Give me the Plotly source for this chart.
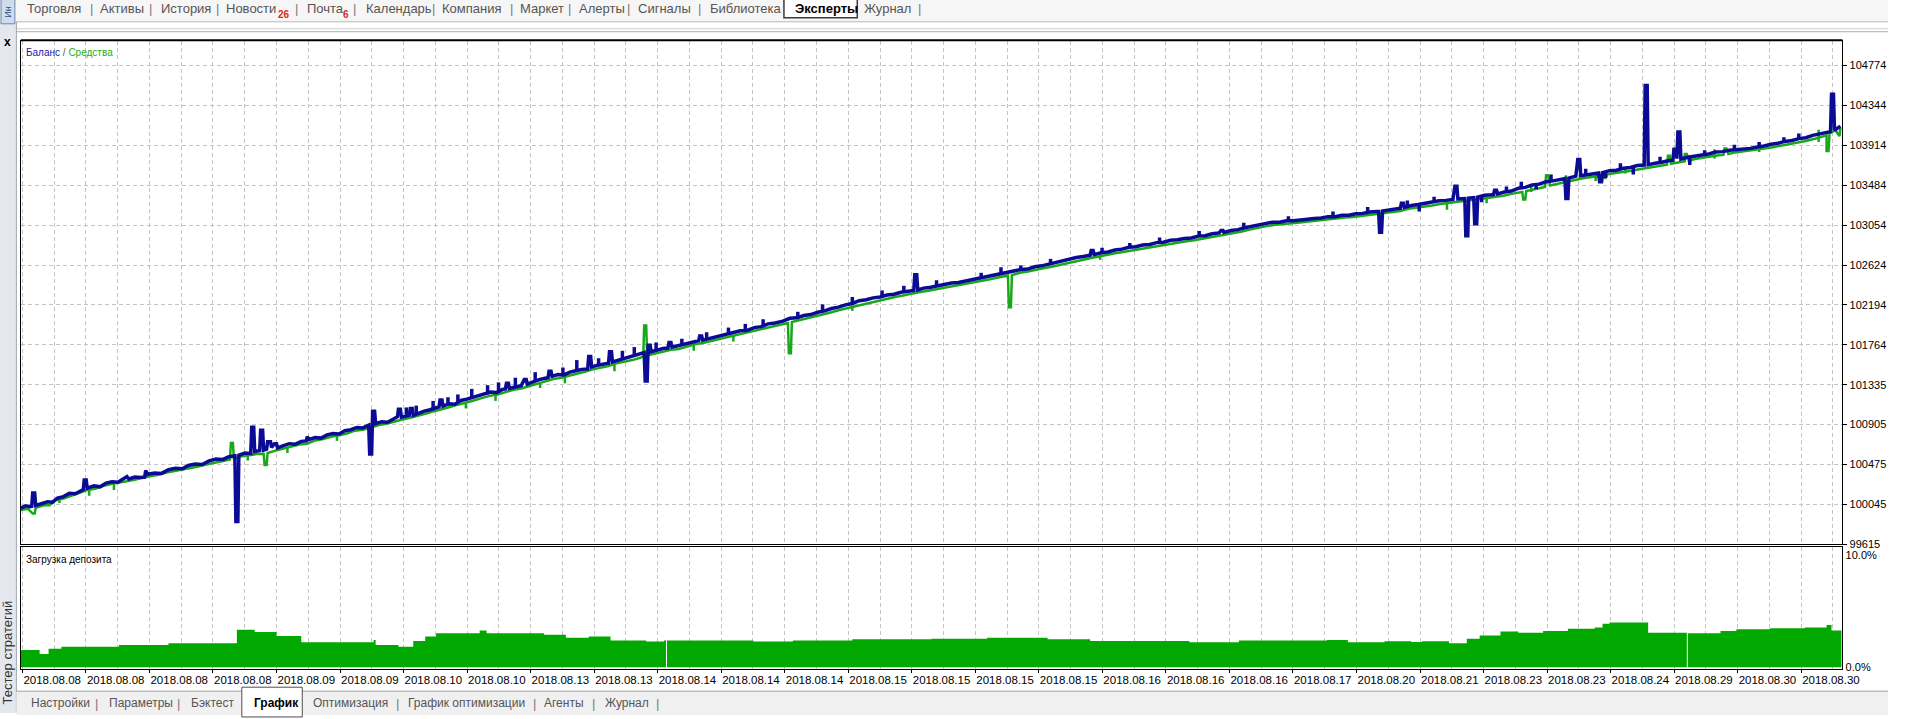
import plotly.graph_objects as go

W, H = 1905, 719

# ---------------- data ----------------
date_labels = (["2018.08.08"] * 4 + ["2018.08.09"] * 2 + ["2018.08.10"] * 2 +
               ["2018.08.13"] * 2 + ["2018.08.14"] * 3 + ["2018.08.15"] * 4 +
               ["2018.08.16"] * 3 +
               ["2018.08.17", "2018.08.20", "2018.08.21", "2018.08.23", "2018.08.23",
                "2018.08.24", "2018.08.29", "2018.08.30", "2018.08.30"])

y_ticks = [99615, 100045, 100475, 100905, 101335, 101764, 102194,
           102624, 103054, 103484, 103914, 104344, 104774]

load_ticks = [0, 10]
load_tick_text = ["0.0%", "10.0%"]

# balance line (x = bar position, y = account balance)
bal_x = [21, 26, 30, 32, 33, 35, 36, 42, 48, 53, 58, 64, 70, 76, 82, 84, 85, 87, 88, 95,
         101, 107, 113, 119, 125, 128, 130, 136, 142, 146, 147, 149, 156, 163, 170, 177, 184, 190, 197, 204,
         211, 218, 225, 231, 237, 238, 240, 241, 247, 253, 254, 256, 257, 262, 263, 265, 266, 269, 270, 273,
         274, 277, 279, 280, 286, 292, 298, 304, 309, 310, 312, 318, 324, 330, 336, 342, 348, 354, 360, 366,
         372, 373, 375, 376, 378, 379, 385, 391, 397, 401, 402, 404, 405, 410, 413, 414, 416, 417, 422, 428,
         434, 440, 443, 444, 446, 447, 453, 459, 465, 471, 477, 483, 489, 495, 501, 507, 510, 511, 513, 514,
         520, 526, 529, 531, 532, 538, 544, 550, 553, 554, 556, 557, 563, 569, 575, 581, 587, 593, 594, 596,
         597, 603, 609, 614, 615, 617, 618, 624, 630, 636, 642, 648, 650, 651, 653, 654, 656, 657, 663, 669,
         674, 675, 677, 678, 684, 690, 696, 702, 705, 706, 708, 709, 715, 721, 727, 733, 740, 747, 754, 761,
         768, 775, 782, 790, 797, 804, 811, 818, 825, 832, 839, 846, 853, 860, 867, 874, 881, 888, 895, 902,
         909, 916, 922, 923, 925, 926, 932, 939, 946, 953, 960, 967, 974, 981, 988, 995, 1002, 1009, 1016, 1023,
         1030, 1037, 1044, 1051, 1058, 1065, 1072, 1079, 1086, 1093, 1100, 1101, 1103, 1104, 1111, 1118, 1125, 1132, 1139, 1146,
         1153, 1160, 1167, 1174, 1181, 1188, 1195, 1202, 1209, 1216, 1223, 1230, 1232, 1234, 1235, 1242, 1249, 1256, 1263, 1270,
         1277, 1284, 1291, 1298, 1305, 1312, 1319, 1326, 1333, 1340, 1347, 1354, 1361, 1368, 1375, 1382, 1389, 1391, 1392, 1394,
         1395, 1402, 1409, 1413, 1414, 1416, 1417, 1424, 1431, 1438, 1445, 1452, 1459, 1466, 1468, 1470, 1471, 1478, 1479, 1481,
         1482, 1487, 1488, 1490, 1491, 1498, 1505, 1507, 1508, 1510, 1511, 1518, 1525, 1532, 1539, 1546, 1553, 1560, 1567, 1574,
         1579, 1580, 1582, 1583, 1590, 1592, 1594, 1595, 1602, 1609, 1613, 1614, 1616, 1617, 1624, 1631, 1638, 1645, 1652, 1659,
         1660, 1662, 1663, 1670, 1677, 1684, 1688, 1689, 1691, 1692, 1693, 1695, 1696, 1703, 1710, 1717, 1724, 1731, 1738, 1745,
         1752, 1759, 1766, 1773, 1780, 1787, 1794, 1801, 1808, 1815, 1822, 1829, 1836, 1842, 1847, 1848, 1850, 1851, 1857]
bal_y = [100005, 100030, 100020, 100025, 100170, 100170, 100035, 100055, 100075, 100070, 100115, 100130, 100165, 100160, 100200, 100205, 100310, 100310, 100220, 100245,
         100235, 100275, 100290, 100285, 100325, 100345, 100320, 100340, 100335, 100340, 100410, 100370, 100385, 100380, 100420, 100435, 100430, 100465, 100480, 100475,
         100515, 100535, 100530, 100560, 100570, 99861, 99861, 100575, 100600, 100595, 100878, 100878, 100615, 100625, 100845, 100845, 100630, 100640, 100720, 100720,
         100660, 100700, 100700, 100655, 100680, 100700, 100695, 100725, 100730, 100775, 100745, 100765, 100760, 100795, 100810, 100805, 100840, 100850, 100875, 100870,
         100900, 100589, 100589, 101049, 101049, 100915, 100935, 100930, 100965, 100990, 101070, 101070, 100985, 101000, 101005, 101080, 101080, 101005, 101030, 101050,
         101065, 101090, 101095, 101170, 101170, 101105, 101130, 101125, 101165, 101180, 101200, 101215, 101240, 101255, 101250, 101285, 101290, 101350, 101350, 101295,
         101310, 101325, 101390, 101390, 101340, 101370, 101390, 101405, 101410, 101480, 101480, 101425, 101445, 101440, 101470, 101485, 101500, 101505, 101640, 101640,
         101525, 101545, 101560, 101565, 101690, 101690, 101580, 101600, 101615, 101635, 101660, 101675, 101680, 101374, 101374, 101760, 101760, 101690, 101710, 101725,
         101730, 101790, 101790, 101740, 101755, 101770, 101790, 101805, 101810, 101860, 101860, 101815, 101830, 101850, 101865, 101880, 101890, 101915, 101920, 101950,
         101960, 101990, 102000, 102020, 102050, 102055, 102080, 102090, 102115, 102130, 102155, 102170, 102195, 102210, 102240, 102250, 102270, 102280, 102300, 102310,
         102330, 102340, 102350, 102520, 102520, 102355, 102375, 102385, 102400, 102410, 102430, 102435, 102450, 102465, 102485, 102495, 102515, 102525, 102545, 102555,
         102575, 102580, 102605, 102615, 102635, 102650, 102670, 102685, 102705, 102715, 102730, 102780, 102780, 102735, 102755, 102765, 102785, 102795, 102815, 102820,
         102840, 102845, 102865, 102870, 102890, 102895, 102910, 102915, 102935, 102940, 102960, 102970, 102995, 102995, 102975, 102995, 103005, 103025, 103040, 103060,
         103070, 103085, 103085, 103100, 103100, 103110, 103115, 103125, 103130, 103145, 103145, 103160, 103160, 103175, 103180, 103195, 103200, 103200, 102977, 102977,
         103205, 103220, 103230, 103235, 103290, 103290, 103245, 103265, 103275, 103290, 103300, 103315, 103320, 103330, 103472, 103472, 103335, 103340, 102938, 102938,
         103345, 103350, 103068, 103068, 103355, 103375, 103380, 103382, 103430, 103430, 103390, 103410, 103420, 103450, 103460, 103485, 103495, 103520, 103530, 103550,
         103555, 103340, 103340, 103560, 103580, 103760, 103760, 103585, 103600, 103610, 103615, 103520, 103520, 103620, 103640, 103645, 103665, 103675, 103695, 103700,
         104558, 104558, 103705, 103720, 103730, 103750, 103752, 103870, 103870, 103770, 104056, 104056, 103765, 103785, 103795, 103810, 103820, 103840, 103845, 103860,
         103865, 103875, 103880, 103895, 103905, 103925, 103935, 103955, 103965, 103985, 103995, 104020, 104035, 104050, 104060, 104462, 104462, 104075, 104120]

# short balance jumps (x, low, high)
bal_tooth_x = [410, 420, 437, 452, 462, 476, 492, 503, 520, 540, 568, 582, 604, 628, 640,
               662, 688, 713, 735, 752, 770, 805, 830, 860, 890, 912, 945, 990, 1010, 1030,
               1060, 1112, 1140, 1170, 1210, 1255, 1300, 1345, 1380, 1420, 1432, 1447, 1495, 1520, 1535,
               1550, 1565, 1600, 1620, 1635, 1648, 1675, 1705, 1720, 1750, 1775, 1800, 1815]
bal_tooth_lo = [101000, 101020, 101060, 101110, 101140, 101180, 101230, 101260, 101300, 101370, 101440, 101480, 101540, 101610, 101640,
                101700, 101760, 101820, 101870, 101910, 101960, 102050, 102120, 102200, 102280, 102330, 102390, 102480, 102520, 102570,
                102630, 102750, 102810, 102865, 102930, 103020, 103095, 103145, 103190, 103255, 103200, 103300, 103300, 103408, 103450,
                103440, 103525, 103590, 103560, 103650, 103600, 103725, 103700, 103800, 103860, 103895, 103945, 103975]
bal_tooth_hi = [101090, 101110, 101160, 101200, 101230, 101290, 101330, 101360, 101410, 101470, 101520, 101600, 101620, 101700, 101740,
                101790, 101830, 101900, 101950, 101990, 102040, 102120, 102200, 102280, 102350, 102400, 102460, 102540, 102600, 102620,
                102690, 102810, 102860, 102920, 102990, 103080, 103150, 103200, 103250, 103320, 103280, 103360, 103365, 103470, 103520,
                103490, 103600, 103660, 103630, 103720, 103690, 103790, 103790, 103860, 103920, 103950, 104000, 104040]

# equity line (x = bar position, y = equity)
eq_x = [21, 28, 33, 35, 36, 45, 50, 56, 64, 72, 80, 88, 96, 104, 112, 120, 128, 136, 144, 152,
        160, 168, 176, 184, 192, 200, 208, 216, 224, 232, 233, 235, 236, 244, 252, 260, 266, 267, 269, 270,
        278, 286, 294, 302, 310, 318, 326, 334, 342, 350, 358, 366, 374, 382, 390, 398, 406, 414, 422, 430,
        438, 446, 454, 462, 470, 478, 486, 494, 502, 510, 518, 526, 534, 542, 550, 558, 566, 574, 582, 590,
        598, 606, 614, 622, 630, 638, 646, 649, 650, 652, 653, 661, 669, 677, 685, 693, 701, 709, 717, 725,
        733, 741, 749, 757, 765, 773, 781, 789, 795, 796, 798, 799, 807, 815, 823, 831, 839, 847, 855, 863,
        871, 879, 887, 895, 903, 911, 919, 927, 935, 943, 951, 959, 967, 975, 983, 991, 999, 1007, 1015, 1017,
        1018, 1020, 1021, 1029, 1037, 1045, 1053, 1061, 1069, 1077, 1085, 1093, 1101, 1109, 1117, 1125, 1133, 1141, 1149, 1157,
        1165, 1173, 1181, 1189, 1197, 1205, 1213, 1221, 1229, 1237, 1245, 1253, 1261, 1269, 1277, 1285, 1293, 1301, 1309, 1317,
        1325, 1333, 1341, 1349, 1357, 1365, 1373, 1381, 1389, 1397, 1405, 1413, 1421, 1429, 1437, 1445, 1453, 1461, 1469, 1477,
        1485, 1493, 1501, 1509, 1517, 1525, 1533, 1536, 1537, 1539, 1540, 1548, 1556, 1559, 1560, 1562, 1564, 1572, 1580, 1588,
        1596, 1604, 1612, 1620, 1622, 1630, 1638, 1646, 1654, 1662, 1670, 1678, 1682, 1683, 1685, 1686, 1694, 1699, 1700, 1702,
        1704, 1710, 1718, 1726, 1734, 1739, 1740, 1742, 1744, 1750, 1758, 1766, 1774, 1782, 1790, 1798, 1806, 1814, 1822, 1830,
        1838, 1843, 1843, 1845, 1846, 1852, 1856, 1857]
eq_y = [99985, 100000, 99947, 99947, 100010, 100040, 100037, 100090, 100110, 100140, 100170, 100200, 100215, 100245, 100265, 100280, 100300, 100310, 100335, 100350,
        100365, 100390, 100405, 100420, 100440, 100455, 100475, 100490, 100510, 100530, 100706, 100706, 100540, 100565, 100580, 100590, 100592, 100471, 100471, 100600,
        100625, 100645, 100665, 100690, 100700, 100735, 100750, 100775, 100790, 100810, 100840, 100850, 100870, 100900, 100915, 100940, 100960, 100980, 101000, 101025,
        101050, 101070, 101095, 101120, 101140, 101165, 101190, 101215, 101230, 101255, 101280, 101295, 101320, 101345, 101370, 101395, 101410, 101430, 101455, 101475,
        101500, 101520, 101535, 101565, 101580, 101600, 101625, 101640, 101973, 101973, 101650, 101670, 101690, 101710, 101720, 101745, 101770, 101785, 101805, 101825,
        101840, 101860, 101880, 101900, 101920, 101945, 101965, 101985, 102000, 101674, 101674, 102010, 102030, 102050, 102075, 102095, 102115, 102140, 102160, 102180,
        102205, 102220, 102240, 102265, 102280, 102295, 102315, 102330, 102345, 102360, 102380, 102395, 102410, 102420, 102435, 102455, 102470, 102490, 102505, 102510,
        102169, 102169, 102515, 102540, 102555, 102575, 102590, 102605, 102625, 102645, 102665, 102680, 102700, 102715, 102735, 102750, 102765, 102780, 102795, 102810,
        102820, 102840, 102855, 102865, 102880, 102890, 102905, 102920, 102940, 102955, 102970, 102985, 103005, 103025, 103040, 103055, 103060, 103070, 103080, 103090,
        103095, 103105, 103115, 103125, 103135, 103140, 103150, 103160, 103170, 103180, 103195, 103205, 103230, 103240, 103255, 103265, 103280, 103290, 103300, 103310,
        103320, 103335, 103345, 103360, 103370, 103390, 103405, 103410, 103330, 103330, 103420, 103440, 103460, 103465, 103590, 103590, 103480, 103500, 103520, 103540,
        103555, 103570, 103580, 103560, 103600, 103615, 103625, 103640, 103655, 103670, 103685, 103700, 103705, 103800, 103800, 103715, 103730, 103740, 103820, 103820,
        103745, 103765, 103780, 103795, 103805, 103810, 103880, 103880, 103820, 103835, 103845, 103855, 103865, 103880, 103895, 103910, 103925, 103940, 103960, 103980,
        104000, 104020, 103852, 103852, 104040, 104075, 104013, 104100]

# short equity jumps (x, low, high)
eq_tooth_x = [60, 90, 115, 250, 290, 340, 470, 500, 545, 570, 620, 700, 740, 860, 1110,
              1460, 1500, 1545, 1580, 1610, 1640, 1700, 1730, 1775, 1835]
eq_tooth_lo = [100060, 100140, 100200, 100520, 100600, 100730, 101080, 101160, 101300, 101350, 101480, 101700, 101800, 102130, 102680,
               103220, 103290, 103410, 103480, 103530, 103610, 103730, 103770, 103840, 103950]
eq_tooth_hi = [100110, 100200, 100260, 100590, 100660, 100790, 101140, 101230, 101360, 101420, 101550, 101760, 101860, 102190, 102740,
               103290, 103360, 103480, 103590, 103620, 103680, 103800, 103870, 103900, 104080]

# deposit load, % (step chart)
load_x = [21, 40, 49, 62, 120, 170, 239, 257, 279, 304, 377, 379, 402, 417, 429, 440, 484, 491, 549, 571,
          594, 616, 652, 670, 672, 673, 700, 760, 800, 860, 940, 996, 1057, 1100, 1200, 1250, 1339, 1360, 1397, 1424,
          1435, 1462, 1480, 1493, 1514, 1532, 1557, 1582, 1609, 1617, 1624, 1663, 1702, 1703, 1736, 1752, 1786, 1821, 1843, 1848,
          1858]
load_y = [1.55, 1.2, 1.65, 1.85, 2.0, 2.15, 3.35, 3.15, 2.8, 2.25, 2.45, 2.0, 1.85, 2.35, 2.75, 3.05, 3.3, 3.05, 2.9, 2.65,
          2.75, 2.4, 2.3, 2.4, 0.0, 2.4, 2.4, 2.3, 2.4, 2.5, 2.55, 2.65, 2.5, 2.35, 2.25, 2.4, 2.45, 2.25, 2.33, 2.27,
          2.33, 2.15, 2.55, 2.85, 3.2, 3.1, 3.25, 3.45, 3.55, 3.9, 4.0, 3.1, 0.0, 3.05, 3.25, 3.4, 3.5, 3.55, 3.78, 3.3,
          3.3]

top_tabs = ["Торговля", "Активы", "История", "Новости", "Почта", "Календарь", "Компания",
            "Маркет", "Алерты", "Сигналы", "Библиотека", "Эксперты", "Журнал"]
bottom_tabs = ["Настройки", "Параметры", "Бэктест", "График", "Оптимизация",
               "График оптимизации", "Агенты", "Журнал"]

# ---------------- layout geometry (screen pixels) ----------------
def px(x):
    return x / W


def py(y):
    return 1 - y / H


X0, X1 = 21, 1859
MAIN_T, MAIN_B = 41, 549
LOW_T, LOW_B = 552, 675
GRID0, GRID_STEP = 22.6, 32.05

major_ticks = [GRID0 + 2 * GRID_STEP * i for i in range(len(date_labels))]
minor_ticks = [GRID0 + GRID_STEP * (2 * i + 1) for i in range(len(date_labels))]

GRID = "#c4c4c4"
DASH = "4px,3px"
FONT = "Liberation Sans, Arial, sans-serif"
BLUE = "#0b0b96"
GREEN = "#19a819"


def segments(xs, los, his):
    sx, sy = [], []
    for x, lo, hi in zip(xs, los, his):
        sx += [x, x, None]
        sy += [lo, hi, None]
    return sx, sy


fig = go.Figure()
fig.add_trace(go.Scatter(x=eq_x, y=eq_y, mode="lines", line=dict(color=GREEN, width=2.5),
                         xaxis="x", yaxis="y", hoverinfo="skip"))
ex, ey = segments(eq_tooth_x, eq_tooth_lo, eq_tooth_hi)
fig.add_trace(go.Scatter(x=ex, y=ey, mode="lines", line=dict(color=GREEN, width=2.5),
                         xaxis="x", yaxis="y", hoverinfo="skip", connectgaps=False))
fig.add_trace(go.Scatter(x=bal_x, y=bal_y, mode="lines", line=dict(color=BLUE, width=3.5),
                         xaxis="x", yaxis="y", hoverinfo="skip"))
bx, by = segments(bal_tooth_x, bal_tooth_lo, bal_tooth_hi)
fig.add_trace(go.Scatter(x=bx, y=by, mode="lines", line=dict(color=BLUE, width=3.5),
                         xaxis="x", yaxis="y", hoverinfo="skip", connectgaps=False))
fig.add_trace(go.Scatter(x=load_x, y=load_y, mode="lines", line=dict(color="#00a800", width=0, shape="hv"),
                         fill="tozeroy", fillcolor="#00a800", xaxis="x2", yaxis="y2", hoverinfo="skip"))

axis_common = dict(showline=True, mirror=True, linecolor="#000000", linewidth=1, zeroline=False)

fig.update_layout(
    width=W, height=H, margin=dict(l=0, r=0, t=0, b=0), autosize=False,
    paper_bgcolor="#ffffff", plot_bgcolor="#ffffff", showlegend=False,
    font=dict(family=FONT, color="#000000", size=11),
    xaxis=dict(domain=[px(X0), px(X1)], range=[X0, X1], anchor="y", matches="x2",
               tickmode="array", tickvals=major_ticks, showticklabels=False, ticks="",
               showgrid=True, gridcolor=GRID, griddash=DASH, gridwidth=1,
               minor=dict(tickmode="array", tickvals=minor_ticks, showgrid=True, gridcolor=GRID,
                          griddash=DASH, gridwidth=1, ticks=""),
               **axis_common),
    yaxis=dict(domain=[py(MAIN_B), py(MAIN_T)], range=[99615, 105040], anchor="x", side="right",
               tickmode="array", tickvals=y_ticks, ticktext=[str(v) for v in y_ticks],
               ticks="outside", ticklen=4, tickcolor="#000000", tickfont=dict(size=11),
               showgrid=True, gridcolor=GRID, griddash=DASH, gridwidth=1, **axis_common),
    xaxis2=dict(domain=[px(X0), px(X1)], range=[X0, X1], anchor="y2",
                tickmode="array", tickvals=major_ticks, ticktext=date_labels, tickangle=0,
                ticks="outside", ticklen=3, tickcolor="#000000", ticklabelposition="outside right",
                tickfont=dict(size=11.5), showgrid=True, gridcolor=GRID, griddash=DASH, gridwidth=1,
                minor=dict(tickmode="array", tickvals=minor_ticks, showgrid=True, gridcolor=GRID,
                           griddash=DASH, gridwidth=1, ticks=""),
                **axis_common),
    yaxis2=dict(domain=[py(LOW_B), py(LOW_T)], range=[-0.18, 10.71], anchor="x2", side="right",
                tickmode="array", tickvals=load_ticks, ticktext=load_tick_text, ticks="",
                tickfont=dict(size=11), showgrid=False, **axis_common),
)

shapes = []
ann = []


def rect(x0, y0, x1, y1, fill, line=None, lw=1, layer="above"):
    shapes.append(dict(type="rect", xref="paper", yref="paper", x0=px(x0), x1=px(x1),
                       y0=py(y1), y1=py(y0), fillcolor=fill, layer=layer,
                       line=dict(color=line or fill, width=lw if line else 0)))


def hline(y, x0, x1, color, lw=1):
    shapes.append(dict(type="line", xref="paper", yref="paper", x0=px(x0), x1=px(x1),
                       y0=py(y), y1=py(y), line=dict(color=color, width=lw), layer="above"))


def vline(x, y0, y1, color, lw=1):
    shapes.append(dict(type="line", xref="paper", yref="paper", x0=px(x), x1=px(x),
                       y0=py(y0), y1=py(y1), line=dict(color=color, width=lw), layer="above"))


def text(x, y, s, size=12, color="#000000", anchor="left", angle=0, bold=False, family=FONT):
    ann.append(dict(xref="paper", yref="paper", x=px(x), y=py(y), text=("<b>%s</b>" % s) if bold else s,
                    showarrow=False, xanchor=anchor, yanchor="middle", textangle=angle, borderpad=0,
                    font=dict(size=size, color=color, family=family)))


# top tab bar
rect(0, 0, W, 22, "#f6f6f6")
hline(22, 16, W, "#b8b8b8")
hline(29, 16, W, "#cfcfcf")
hline(32, 16, W, "#a9a9a9")
hline(40.5, 21, X1, "#000000", 2)
rect(791, -4, 865, 18, "#ffffff", "#3c3c3c", 1.5)
top_x = [26, 100, 161, 227, 309, 368, 445, 524, 583, 643, 715, 801, 871]
for name, x in zip(top_tabs, top_x):
    text(x, 8.5, name, size=13, color="#000000" if name == "Эксперты" else "#555555",
         bold=(name == "Эксперты"))
for x in [92, 152, 219, 299, 358, 437, 516, 575, 634, 706, 928]:
    text(x, 9, "|", size=13, color="#7a7a7a", anchor="center")
text(279, 15, "26", size=10, color="#e02626", bold=True)
text(345, 15, "6", size=10, color="#e02626", bold=True)

# left strip
rect(0, 22, 16, H, "#e4e8ee")
vline(16.5, 22, H, "#9aa3ae")
rect(1, -2, 15, 24, "#cfdcec", "#6b86ad", 1)
text(8, 12, "Ин", size=9, color="#2d4f80", anchor="center", angle=-90)
text(8, 42, "x", size=12, color="#000000", anchor="center", bold=True)
text(8, 658, "Тестер стратегий", size=13, color="#333333", anchor="center", angle=-90)

# bottom tab bar
rect(16.5, 697, W, H + 2, "#f0f0f0")
hline(697, 16.5, W, "#a0a0a0")
rect(244, 693, 305, H + 4, "#ffffff", "#505050", 1)
bot_x = [30, 109, 192, 255, 315, 411, 548, 609]
for name, x in zip(bottom_tabs, bot_x):
    active = (name == "График" and x == 255)
    text(x, 709, name, size=12, color="#000000" if active else "#555555", bold=active)
for x in [97, 180, 401, 539, 599, 663]:
    text(x, 709, "|", size=13, color="#7a7a7a", anchor="center")

# panel captions
text(25, 53, '<span style="color:#1a1aa0">Баланс</span> / <span style="color:#18b018">Средства</span>',
     size=10, color="#555555")
text(25, 564, "Загрузка депозита", size=10, color="#000000")

fig.update_layout(shapes=shapes, annotations=ann)

fig.write_html("out.html", config={"displayModeBar": False},
               post_script="document.body.style.margin='0';document.body.style.overflow='hidden';")
